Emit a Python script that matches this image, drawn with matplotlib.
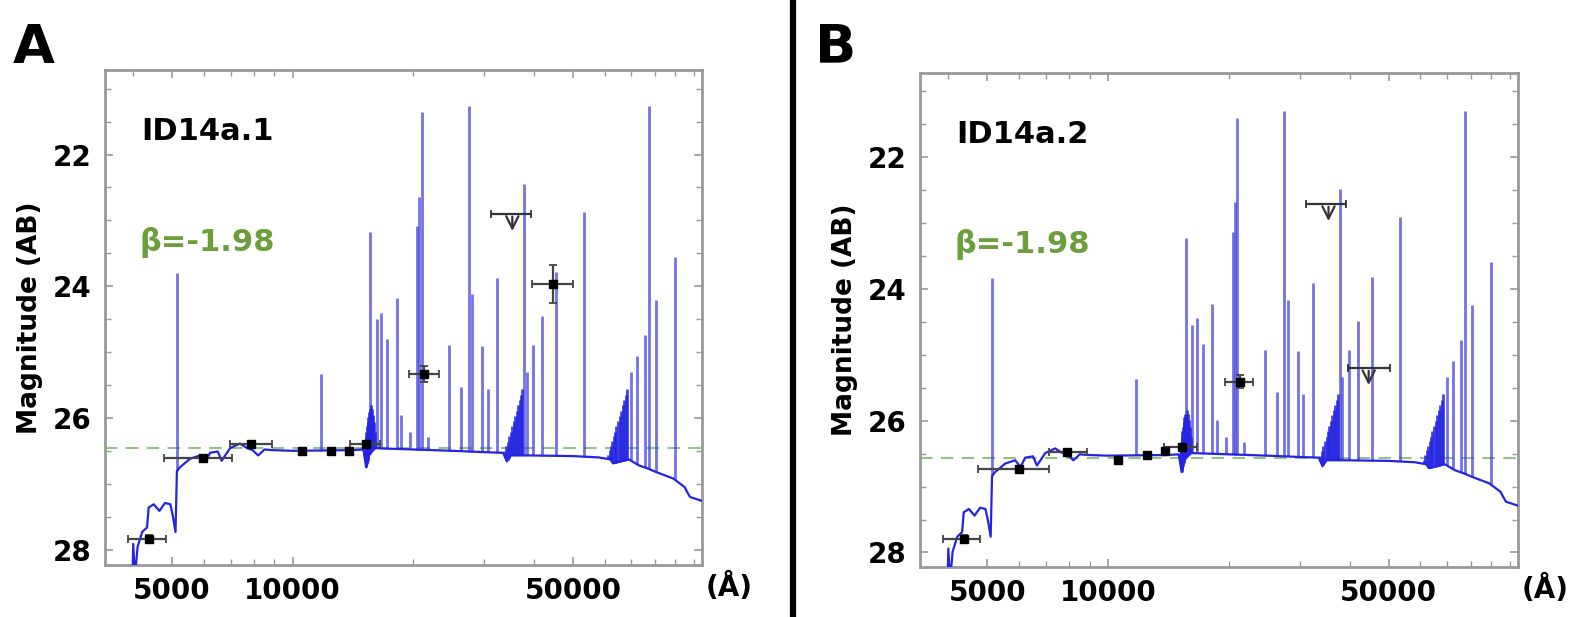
import numpy as np
import matplotlib
matplotlib.use("Agg")
import matplotlib.pyplot as plt
from matplotlib.lines import Line2D
from matplotlib.ticker import FixedLocator, LogLocator, NullFormatter, MultipleLocator

# ── model SED continuum (wavelength in Å, AB mag) ──
cont_wl = [3850, 3980, 4000, 4040, 4100, 4210, 4330, 4370, 4500, 4650, 4800,
           4950, 5020, 5100, 5140, 5230, 5545, 5870, 6050, 6220, 6500, 6650,
           6975, 7380, 7700, 7935, 8200, 8500, 8935, 10000, 14000, 15000,
           15250, 15500, 16000, 20000, 25000, 30000, 33500, 34200, 35000,
           39000, 50000, 58000, 62000, 63000, 69000, 73000, 77000, 80500,
           89000, 95000, 96500, 98000, 105000]
cont_mag = [28.6, 28.5, 27.9, 28.4, 27.95, 27.72, 27.65, 27.35, 27.3, 27.4,
            27.28, 27.3, 27.47, 27.72, 26.8, 26.74, 26.61, 26.56, 26.66, 26.52,
            26.5, 26.64, 26.45, 26.38, 26.45, 26.48, 26.56, 26.47, 26.48, 26.49,
            26.48, 26.47, 26.74, 26.55, 26.45, 26.47, 26.49, 26.51, 26.52, 26.65,
            26.56, 26.56, 26.57, 26.59, 26.62, 26.68, 26.62, 26.71, 26.76, 26.81,
            26.91, 27.04, 27.12, 27.19, 27.25]

# emission lines (observed wavelength, peak magnitude)
line_wl = [5145, 11740, 15630, 16180, 16620, 17200, 18200, 18670, 19650,
           20430, 20700, 20980, 21750, 24570, 26280, 27450, 27990, 29740,
           30670, 32360, 37820, 38300, 39830, 41870, 45350, 53350, 69700,
           72150, 75500, 77600, 80400, 89800]
line_mag = [23.8, 25.32, 23.18, 24.5, 24.4, 24.79, 24.18, 25.95, 26.2,
            23.09, 22.64, 21.36, 26.28, 24.88, 25.52, 21.26, 24.12, 24.9,
            25.55, 23.87, 22.44, 25.3, 24.88, 24.44, 23.78, 22.87, 25.3,
            25.06, 24.74, 21.26, 24.2, 23.55]

# dense series-limit forests (Balmer, Paschen, Brackett)
forest_wl = [15150, 15200, 15260, 15320, 15380, 15440, 15500, 15560, 15720,
             15800, 15880, 15960, 16050,
             33800, 34100, 34400, 34700, 35000, 35300, 35600, 35900, 36200,
             36500, 36800, 37100, 37400,
             61200, 61700, 62200, 62700, 63200, 63700, 64200, 64800, 65400,
             66000, 66600, 67200, 67800, 68300]
forest_mag = [26.35, 26.28, 26.2, 26.12, 26.05, 25.98, 25.9, 25.85, 25.8,
              25.85, 25.95, 26.05, 26.2,
              26.5, 26.42, 26.35, 26.27, 26.2, 26.12, 26.04, 25.96, 25.88,
              25.8, 25.72, 25.64, 25.56,
              26.55, 26.48, 26.41, 26.34, 26.27, 26.2, 26.12, 26.04, 25.96,
              25.88, 25.8, 25.72, 25.64, 25.55]

# ── photometry ──
phot_wl_a = [4370, 5970, 7890, 10520, 12490, 13850, 15270, 21270, 44570]
phot_mag_a = [27.82, 26.60, 26.38, 26.49, 26.49, 26.49, 26.39, 25.32, 23.96]
phot_lo_a = [3880, 4760, 6970, 10350, 12300, 13650, 13900, 19450, 39460]
phot_hi_a = [4820, 7070, 8890, 10700, 12700, 14050, 16500, 23150, 50000]
phot_err_a = [0.05, 0.05, 0.04, 0.04, 0.04, 0.04, 0.05, 0.12, 0.29]
ul_wl_a = [35300]
ul_mag_a = [22.9]
ul_lo_a = [31250]
ul_hi_a = [39250]

phot_wl_b = [4370, 5990, 7890, 10600, 12530, 13900, 15260, 21270]
phot_mag_b = [27.79, 26.73, 26.48, 26.59, 26.52, 26.46, 26.40, 25.41]
phot_lo_b = [3880, 4730, 7120, 10400, 12330, 13700, 13750, 19570]
phot_hi_b = [4800, 7120, 8860, 10800, 12750, 14100, 16700, 22900]
phot_err_b = [0.06, 0.05, 0.04, 0.04, 0.04, 0.04, 0.05, 0.10]
ul_wl_b = [35400, 44570]
ul_mag_b = [22.71, 25.2]
ul_lo_b = [31200, 39500]
ul_hi_b = [39200, 50400]

panel_names = ["ID14a.1", "ID14a.2"]
panel_letters = ["A", "B"]
beta_text = ["β=-1.98", "β=-1.98"]
model_shift = [0.0, 0.04]
beta_level = [26.45, 26.56]

XT = [5000, 10000, 50000]
XT_LABELS = ["5000", "10000", "50000"]
YT = [22, 24, 26, 28]

plt.rcParams['font.family'] = ['DejaVu Sans']
plt.rcParams['font.weight'] = 'bold'

fig = plt.figure(figsize=(15.71, 6.17), dpi=100)
axes_pos = [[0.0668, 0.0843, 0.3801, 0.8022],
            [0.5856, 0.0811, 0.3807, 0.8006]]

panels = [
    (phot_wl_a, phot_mag_a, phot_lo_a, phot_hi_a, phot_err_a,
     ul_wl_a, ul_mag_a, ul_lo_a, ul_hi_a),
    (phot_wl_b, phot_mag_b, phot_lo_b, phot_hi_b, phot_err_b,
     ul_wl_b, ul_mag_b, ul_lo_b, ul_hi_b),
]

blue = '#2424e2'
line_col = '#3d3dde'

for i, pos in enumerate(axes_pos):
    ax = fig.add_axes(pos)
    pw, pm, plo, phi, perr, uw, um, ulo, uhi = panels[i]
    sh = model_shift[i]

    cm = np.array(cont_mag) + sh
    logc = np.log10(cont_wl)

    # emission lines and forests rise from the continuum
    base = np.interp(np.log10(line_wl), logc, cm)
    ax.vlines(line_wl, base, np.array(line_mag) + sh, color=line_col,
              lw=2.0, alpha=0.72, zorder=2)
    fbase = np.interp(np.log10(forest_wl), logc, cm)
    ax.vlines(forest_wl, fbase, np.array(forest_mag) + sh, color=blue,
              lw=2.0, alpha=0.85, zorder=2)
    ax.plot(cont_wl, cm, color=blue, lw=1.6, zorder=3)

    ax.axhline(beta_level[i], color='#86bd74', ls=(0, (6, 4)), lw=1.5,
               alpha=0.9, zorder=1)

    pw = np.array(pw)
    ax.errorbar(pw, pm, yerr=perr,
                xerr=[pw - np.array(plo), np.array(phi) - pw],
                fmt='s', ms=6, color='black', ecolor='#444444',
                elinewidth=1.6, capsize=3, capthick=1.3, zorder=5)

    uw = np.array(uw)
    ax.errorbar(uw, um, xerr=[uw - np.array(ulo), np.array(uhi) - uw],
                fmt='none', ecolor='#333333', elinewidth=1.6, capsize=3,
                capthick=1.3, zorder=5)
    for w, m in zip(uw, um):
        ax.annotate('', xy=(w, m + 0.3), xytext=(w, m),
                    arrowprops=dict(arrowstyle='->', lw=1.6, color='#333333',
                                    mutation_scale=22), zorder=5)

    ax.set_xscale('log')
    ax.set_xlim(3400, 105000)
    ax.set_ylim(28.22, 20.72)

    ax.xaxis.set_major_locator(FixedLocator(XT))
    ax.set_xticklabels(XT_LABELS)
    ax.xaxis.set_minor_locator(LogLocator(base=10, subs=np.arange(1, 10)))
    ax.xaxis.set_minor_formatter(NullFormatter())
    ax.yaxis.set_major_locator(FixedLocator(YT))
    ax.yaxis.set_minor_locator(MultipleLocator(0.5))

    ax.tick_params(which='both', direction='in', top=True, right=True,
                   color='#999999', labelsize=20, labelcolor='black')
    ax.tick_params(which='major', length=6, width=1.2)
    ax.tick_params(which='minor', length=4, width=1.0)
    ax.tick_params(axis='y', pad=10)
    ax.tick_params(axis='x', pad=9)
    for s in ax.spines.values():
        s.set_color('#999999')
        s.set_linewidth(2)

    ax.set_ylabel('Magnitude (AB)', fontsize=19, fontweight='bold')
    ax.yaxis.set_label_coords(-0.104, 0.5)

    ax.text(1.006, -0.045, '(Å)', transform=ax.transAxes, fontsize=20,
            fontweight='bold', ha='left', va='center')
    ax.text(0.06, 0.875, panel_names[i], transform=ax.transAxes, fontsize=22,
            fontweight='bold', ha='left', va='center')
    ax.text(0.058, 0.652, beta_text[i], transform=ax.transAxes, fontsize=22,
            fontweight='bold', color='#6a9f3c', ha='left', va='center')

fig.text(0.008, 0.923, panel_letters[0], fontsize=39, fontweight='bold',
         ha='left', va='center')
fig.text(0.519, 0.923, panel_letters[1], fontsize=39, fontweight='bold',
         ha='left', va='center')

fig.add_artist(Line2D([793 / 1571, 793 / 1571], [0, 1], color='black',
                      lw=4.5, transform=fig.transFigure))

fig.savefig('out.png', dpi=100)
